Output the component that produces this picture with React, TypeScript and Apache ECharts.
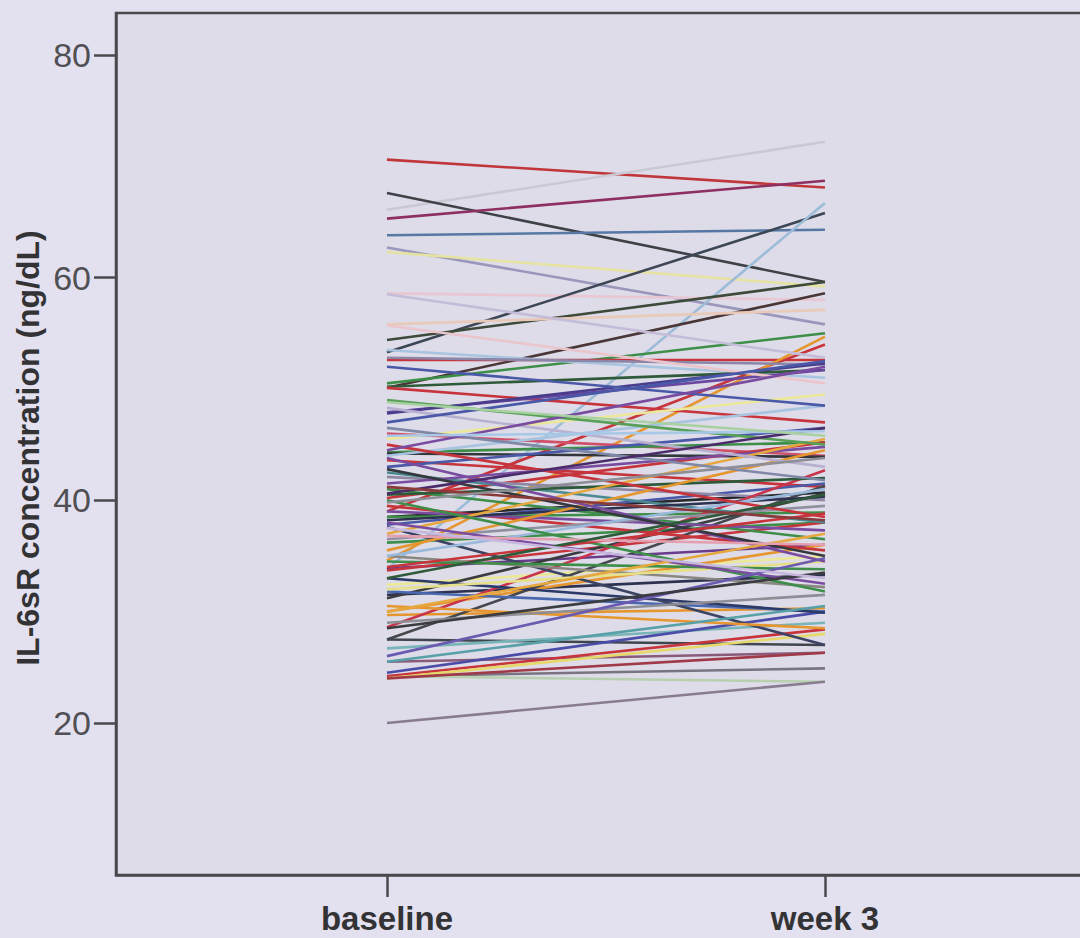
import React, { useEffect, useRef } from "react";
import * as echarts from "echarts";

const timeCategories = ["baseline", "week 3"];
const yTickValues = [20, 40, 60, 80];
const yAxisTitle = "IL-6sR concentration (ng/dL)";

// IL-6sR concentration per subject at baseline and week 3
const baselineValues = [
  70.6, 66.1, 67.6, 65.3, 63.8, 62.7, 62.3, 58.6, 53.3, 33.8,
  54.4, 50.1, 50.5, 52.6, 39.0, 34.6, 53.5, 55.8, 52.8, 50.2,
  50.1, 47.9, 47.8, 46.0, 44.3, 44.2, 43.6, 40.2, 38.5, 38.5,
  37.8, 36.2, 42.1, 33.9, 33.7, 32.4, 31.5, 31.2, 30.0, 29.7,
  28.6, 27.5, 27.5, 26.7, 25.5, 24.2, 24.2, 24.2, 24.5, 24.0,
  20.0, 24.0, 31.8, 33.0, 37.6, 35.0, 30.5, 32.0, 29.0, 45.5,
  44.0, 43.0, 42.5, 41.5, 41.0, 40.5, 39.5, 39.0, 38.2, 37.0,
  36.5, 35.5, 35.0, 34.5, 46.5, 48.3, 45.0, 43.8, 42.8, 40.0,
  38.0, 49.0, 52.0, 26.0, 25.5, 34.0, 30.0, 28.5, 55.7, 36.8,
  33.0, 47.0, 44.5, 40.6, 37.5, 45.8, 48.8, 58.5, 41.2, 39.8,
];
const week3Values = [
  68.1, 72.2, 59.6, 68.7, 64.3, 55.8, 59.2, 58.0, 65.8, 66.7,
  59.6, 58.6, 55.0, 52.6, 54.0, 54.7, 51.0, 57.1, 52.2, 51.7,
  47.0, 51.7, 52.3, 44.0, 45.2, 43.9, 41.2, 45.2, 40.7, 38.9,
  41.5, 38.0, 40.0, 36.0, 38.0, 35.0, 33.3, 40.6, 36.0, 30.3,
  42.7, 41.3, 27.0, 29.0, 26.3, 24.9, 23.7, 28.4, 30.0, 28.0,
  23.7, 26.3, 30.0, 29.9, 27.0, 32.2, 28.5, 34.5, 31.5, 49.5,
  48.5, 46.5, 38.0, 44.8, 36.5, 42.0, 35.5, 37.3, 40.3, 45.5,
  39.5, 44.5, 41.0, 33.8, 41.8, 43.0, 38.5, 34.5, 35.0, 31.8,
  32.5, 45.0, 48.5, 34.8, 30.5, 38.8, 37.0, 33.5, 50.5, 36.0,
  40.5, 52.5, 52.0, 46.5, 33.0, 46.2, 45.8, 52.8, 38.2, 43.8,
];

// style: colour of each subject's line
const lineColors = [
  "#c0363a", "#c9c9d3", "#3e4246", "#8e2f62", "#5777a5", "#9a96bc", "#e6e3a0", "#e8c6d2", "#3c4654", "#9cbcd8",
  "#3d4a3a", "#4a3636", "#3e8e4a", "#c8343c", "#c8343c", "#e6962e", "#a8c4e0", "#e9c9b8", "#8c86a8", "#2f5a3a",
  "#c8343c", "#6a48a0", "#4a3c8c", "#d0506a", "#3e8e4a", "#33363c", "#c8343c", "#c8343c", "#25282c", "#3e8e4a",
  "#4a58a8", "#3e8e4a", "#8e88a4", "#6a3c8c", "#c8343c", "#ece89a", "#2c3250", "#3a3c40", "#e6962e", "#e6962e",
  "#c8344c", "#45484c", "#40464e", "#78b4b8", "#8a5a7a", "#7a7480", "#b8d0b0", "#c8343c", "#4a4ca8", "#e6d86a",
  "#8a7c90", "#a03a48", "#4a68b0", "#2c3a68", "#3c4464", "#8a8680", "#e6962e", "#e6e08a", "#8e8e96", "#ece89a",
  "#a8c4e0", "#4a58a8", "#4a8a90", "#7a4ca0", "#3e8e4a", "#2f5a3a", "#c8343c", "#7a4ca0", "#2c3250", "#e6a83e",
  "#9090a0", "#e6962e", "#98b8dc", "#3e8e4a", "#8088a8", "#b8b0d0", "#c8343c", "#7a4ca0", "#35383c", "#3e8e4a",
  "#7a4ca0", "#58a058", "#4a58a8", "#6a5ab0", "#58a0a8", "#c8343c", "#e6a83e", "#3a3c40", "#ecc4cc", "#e4a0b0",
  "#2f5a3a", "#4a58a8", "#7a4ca0", "#4a2c6a", "#c8b8e0", "#a8c8e8", "#a8d0a0", "#c4bcd8", "#8a3a3a", "#8e8e96",
];

const FONT = "'Liberation Sans', Arial, Helvetica, sans-serif";

export default function App() {
  const ref = useRef<HTMLDivElement>(null);

  useEffect(() => {
    if (!ref.current) return;
    const chart = echarts.init(ref.current, null, { renderer: "svg" });

    const series = baselineValues.map((b, i) => ({
      type: "line",
      data: [
        [0, b],
        [1, week3Values[i]],
      ],
      symbol: "none",
      silent: true,
      lineStyle: { color: lineColors[i % lineColors.length], width: 2.6 },
    }));

    chart.setOption({
      animation: false,
      backgroundColor: "#e3e1ef",
      grid: {
        left: 116,
        top: 13,
        width: 984,
        height: 862,
        outerBoundsMode: "none",
        containLabel: false,
        show: true,
        backgroundColor: "#dddce8",
        borderColor: "#4a4a4e",
        borderWidth: 2.5,
      },
      xAxis: {
        type: "value",
        min: -0.6187,
        max: 1.628,
        splitLine: { show: false },
        axisLine: { show: true, onZero: false, lineStyle: { color: "#4a4a4e", width: 2.5 } },
        axisTick: {
          show: true,
          customValues: [0, 1],
          length: 22,
          lineStyle: { color: "#4a4a4e", width: 2.5 },
        },
        axisLabel: {
          customValues: [0, 1],
          formatter: (v: number) => timeCategories[Math.round(v)] ?? "",
          fontFamily: FONT,
          fontWeight: "bold",
          fontSize: 33,
          color: "#333336",
          margin: 27,
        },
      },
      yAxis: {
        type: "value",
        min: 6.34,
        max: 83.77,
        splitLine: { show: false },
        axisLine: { show: true, onZero: false, lineStyle: { color: "#4a4a4e", width: 2.5 } },
        axisTick: {
          show: true,
          customValues: yTickValues,
          length: 22,
          lineStyle: { color: "#4a4a4e", width: 2.5 },
        },
        axisLabel: {
          customValues: yTickValues,
          fontFamily: FONT,
          fontSize: 34,
          color: "#505054",
          margin: 25,
        },
      },
      graphic: [
        {
          type: "text",
          x: 28,
          y: 448,
          rotation: Math.PI / 2,
          style: {
            text: yAxisTitle,
            font: `bold 32px ${FONT}`,
            fill: "#333336",
            textAlign: "center",
            textVerticalAlign: "middle",
          },
        },
      ],
      series,
    });

    return () => chart.dispose();
  }, []);

  return (
    <div
      ref={ref}
      style={{ position: "absolute", left: 0, top: 0, width: 1080, height: 938 }}
    />
  );
}
